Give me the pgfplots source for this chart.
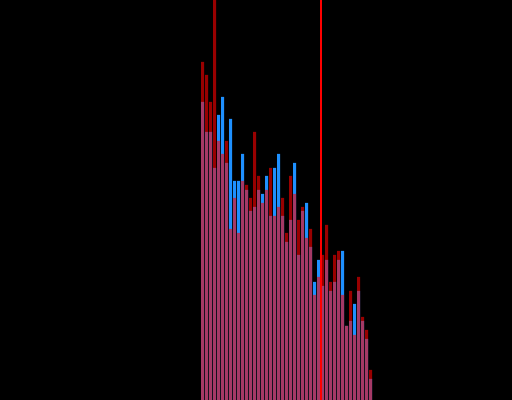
\documentclass[border=0pt]{standalone}
\usepackage{pgfplots}
\pgfplotsset{compat=1.18}
\usepackage{pgfplotstable}
\definecolor{histblue}{RGB}{30,144,255}
\definecolor{histred}{RGB}{255,0,0}

% bin index, counts of sample A (blue), counts of sample B (red)
\pgfplotstableread{
bin blue red
1 298 338
2 268 325
3 268 298
4 232 450
5 285 259
6 303 246
7 237 259
8 281 171
9 219 202
10 219 167
11 246 219
12 210 215
13 189 202
14 193 268
15 210 224
16 206 197
17 224 210
18 184 232
19 232 184
20 246 193
21 184 202
22 158 167
23 180 224
24 237 206
25 145 180
26 189 193
27 197 162
28 153 171
29 118 105
30 140 123
31 114 145
32 140 175
33 109 118
34 118 145
35 140 149
36 149 105
37 74 74
38 79 109
39 96 65
40 109 123
41 79 83
42 61 70
43 21 30
}\hist

\begin{document}
\begin{tikzpicture}
\begin{axis}[
  scale only axis,
  width=512bp, height=400bp,
  xmin=-49.625, xmax=78.375,
  ymin=0, ymax=400,
  axis line style={draw=none},
  ticks=none,
  axis background/.style={fill=black},
  ybar, bar width=0.75, bar shift=0pt,
  clip=true,
]
\addplot[fill=histblue, draw=none] table[x=bin, y=blue] {\hist};
\addplot[fill=histred, fill opacity=0.6, draw=none] table[x=bin, y=red] {\hist};
\addplot[sharp plot, draw=red, line width=2bp] coordinates {(30.625,0) (30.625,400)};
\end{axis}
\end{tikzpicture}
\end{document}
